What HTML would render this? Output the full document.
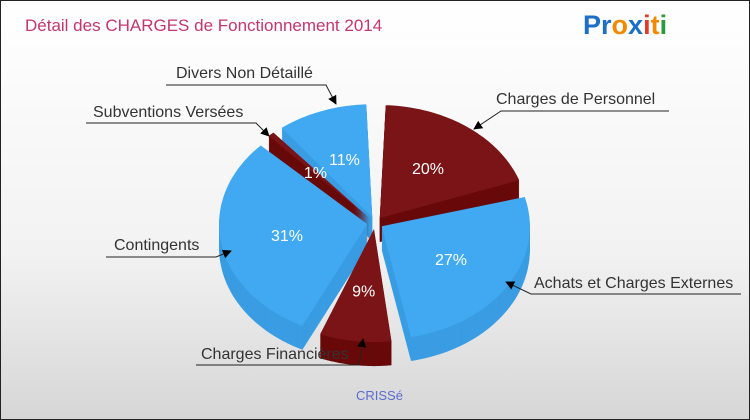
<!DOCTYPE html>
<html><head><meta charset="utf-8"><style>
body{margin:0}
#wrap{position:relative;width:748px;height:418px;border:1px solid #222;background:linear-gradient(#ffffff,#f2f2f2 60%,#d6d6d6);overflow:hidden;font-family:"Liberation Sans",sans-serif}
</style></head><body>
<div id="wrap">
<svg width="748" height="418">
<defs><marker id="ar" viewBox="0 0 10 10" refX="9" refY="5" markerWidth="9" markerHeight="9" orient="auto"><path d="M0,0L10,5L0,10z" fill="#000"/></marker></defs>
<text x="24" y="30" font-size="17" fill="#c3366f">Détail des CHARGES de Fonctionnement 2014</text>
<g font-size="27" font-weight="bold" font-family="Liberation Sans, sans-serif">
<text x="582" y="33"><tspan fill="#1b6fc7">Pr</tspan><tspan fill="#f08a00">o</tspan><tspan fill="#1b6fc7">x</tspan><tspan fill="#e03a2a">i</tspan><tspan fill="#f08a00">t</tspan><tspan fill="#2a9a3a">i</tspan></text></g>
<g id="slices"></g>
<g id="labels" font-size="16" fill="#333"></g>
<text x="355" y="399" font-size="13" fill="#5a6bd0">CRISSé</text>
</svg></div>
<script>
const categories=["Charges de Personnel","Achats et Charges Externes","Charges Financières","Contingents","Subventions Versées","Divers Non Détaillé"];
const values=[20,27,9,31,1,11];
const pctLabels=["20%","27%","9%","31%","1%","11%"];
const colors=["#7a1416","#41a9f2","#7a1416","#41a9f2","#7a1416","#41a9f2"];
const sides=["#680909","#3a9de3","#680909","#3a9de3","#680909","#3a9de3"];
const cx=374,cy=222,rx=148,ry=113,ex=8,depth=24,gap=0.04;
const NS="http://www.w3.org/2000/svg";
const g=document.getElementById('slices');
const total=values.reduce((a,b)=>a+b,0);
function pt(a,r,ox,oy){return [ox+r*rx*Math.sin(a),oy-r*ry*Math.cos(a)];}
let acc=0;const sl=[];
values.forEach((v,i)=>{let a0=acc/total*2*Math.PI;acc+=v;let a1=acc/total*2*Math.PI;const m=(a0+a1)/2;
 const gg=Math.min(gap,(a1-a0)*0.15);a0+=gg;a1-=gg;
 sl.push({i,a0,a1,m,ox:cx+ex*Math.sin(m),oy:cy-ex*Math.cos(m)*ry/rx});});
function path(s,dy){let d="M"+s.ox+","+(s.oy+dy);const n=50;for(let k=0;k<=n;k++){const a=s.a0+(s.a1-s.a0)*k/n;const p=pt(a,1,s.ox,s.oy+dy);d+="L"+p[0].toFixed(1)+","+p[1].toFixed(1);}return d+"Z";}
const order=sl.slice().sort((a,b)=>(a.oy-b.oy));
order.forEach(s=>{
 const grp=document.createElementNS(NS,'g');
 
 
 for(let d=depth;d>0;d-=1){const p=document.createElementNS(NS,'path');p.setAttribute('d',path(s,d));p.setAttribute('fill',sides[s.i]);grp.appendChild(p);}
 const p=document.createElementNS(NS,'path');p.setAttribute('d',path(s,0));p.setAttribute('fill',colors[s.i]);grp.appendChild(p);
 g.appendChild(grp);
});
sl.forEach(s=>{const r=0.55;const p=pt(s.m,r,s.ox,s.oy);
 const t=document.createElementNS(NS,'text');t.setAttribute('x',p[0]);t.setAttribute('y',p[1]+6);t.setAttribute('text-anchor','middle');t.setAttribute('fill','#fff');t.setAttribute('font-size','16');t.textContent=pctLabels[s.i];
 
 
 g.appendChild(t);});
const lab=document.getElementById('labels');
const L=[[0,495,103,"668,110 500,110 473,128"],[1,533,287,"740,293 530,293 505,281"],[2,200,358,"195,364 358,364 362,338"],[3,113,249,"105,256 215,256 230,250"],[4,92,116,"85,122 255,122 268,135"],[5,175,77,"165,84 325,84 335,103"]];
L.forEach(l=>{const t=document.createElementNS(NS,'text');t.setAttribute('x',l[1]);t.setAttribute('y',l[2]);t.textContent=categories[l[0]];
 
 
 lab.appendChild(t);
 const pl=document.createElementNS(NS,'polyline');pl.setAttribute('points',l[3]);pl.setAttribute('fill','none');pl.setAttribute('stroke','#222');pl.setAttribute('marker-end','url(#ar)');
 
 
 lab.appendChild(pl);});
</script>
</body></html>
